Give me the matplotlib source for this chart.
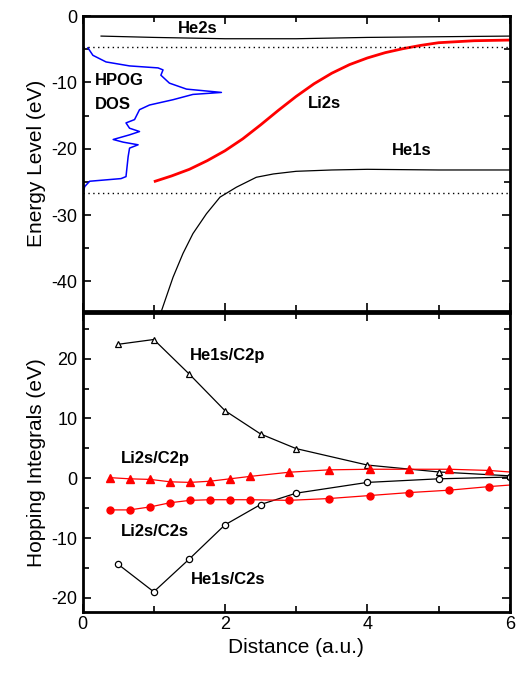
import numpy as np
import matplotlib
matplotlib.use("Agg")
import matplotlib.pyplot as plt
from matplotlib.ticker import MultipleLocator

plt.rcParams["font.family"] = ["Liberation Sans", "DejaVu Sans"]
plt.rcParams["axes.unicode_minus"] = False

# -------------------------------------------------------------------
# DATA
# -------------------------------------------------------------------
# top panel: energy levels vs distance
he2s_x = [0.26, 1.0, 2.0, 3.0, 4.0, 5.0, 6.0]
he2s_y = [-3.0, -3.2, -3.4, -3.4, -3.2, -3.1, -3.0]

li2s_x = [1.02, 1.25, 1.5, 1.75, 2.0, 2.25, 2.5, 2.75, 3.0, 3.25, 3.5,
          3.75, 4.0, 4.25, 4.5, 4.75, 5.0, 5.5, 6.0]
li2s_y = [-24.9, -24.1, -23.1, -21.8, -20.3, -18.5, -16.4, -14.2, -12.1,
          -10.2, -8.6, -7.3, -6.3, -5.5, -4.9, -4.4, -4.0, -3.7, -3.6]

he1s_x = [1.08, 1.11, 1.27, 1.41, 1.55, 1.74, 1.93, 2.16, 2.44, 2.68, 3.0,
          3.5, 4.0, 5.0, 6.0]
he1s_y = [-45.5, -44.4, -39.4, -35.8, -32.8, -29.8, -27.3, -25.8, -24.3,
          -23.8, -23.4, -23.2, -23.1, -23.2, -23.2]

# HPOG density of states (plotted sideways)
dos_val = [0.075, 0.145, 0.33, 0.66, 1.06, 1.13, 1.10, 1.22, 1.46, 1.95,
           1.55, 1.27, 0.94, 0.80, 0.73, 0.61, 0.66, 0.80, 0.66, 0.43,
           0.57, 0.78, 0.66, 0.64, 0.61, 0.54, 0.10, 0.03, 0.01]
dos_e = [-4.77, -5.9, -6.9, -7.5, -7.8, -8.1, -8.9, -10.1, -11.0, -11.5,
         -11.8, -12.6, -13.4, -14.1, -15.6, -16.1, -16.9, -17.4, -17.9, -18.6,
         -19.0, -19.4, -19.9, -21.2, -24.2, -24.5, -24.9, -25.7, -26.6]

# dotted reference levels
ref_levels = [-4.7, -26.7]

# bottom panel: hopping integrals
he_d = [0.5, 1.0, 1.5, 2.0, 2.5, 3.0, 4.0, 5.0, 6.0]
he1s_c2p = [22.4, 23.2, 17.4, 11.3, 7.4, 4.95, 2.2, 1.05, 0.4]
he1s_c2s = [-14.4, -19.0, -13.5, -7.8, -4.4, -2.5, -0.7, -0.1, 0.2]

li_d = [0.38, 0.66, 0.95, 1.23, 1.51, 1.79, 2.07, 2.35, 2.9, 3.46, 4.03,
        4.59, 5.15, 5.71, 6.27]
li2s_c2p = [0.1, -0.1, -0.2, -0.6, -0.7, -0.5, -0.1, 0.3, 1.0, 1.4, 1.5,
            1.5, 1.5, 1.3, 0.8]
li2s_c2s = [-5.3, -5.3, -4.8, -4.1, -3.7, -3.6, -3.6, -3.6, -3.7, -3.4,
            -2.9, -2.4, -2.0, -1.4, -0.9]

# -------------------------------------------------------------------
# PLOT
# -------------------------------------------------------------------
fig = plt.figure(figsize=(5.16, 6.75), dpi=100)
ax1 = fig.add_axes([0.160, 0.540, 0.828, 0.436])
ax2 = fig.add_axes([0.160, 0.094, 0.828, 0.442])

lbl = dict(fontsize=12, fontweight="bold", ha="center", va="center")

# top panel
ax1.plot(he2s_x, he2s_y, color="black", lw=0.9)
ax1.plot(li2s_x, li2s_y, color="red", lw=2.0)
ax1.plot(he1s_x, he1s_y, color="black", lw=0.9)
ax1.plot(dos_val, dos_e, color="blue", lw=1.1)
for lev in ref_levels:
    ax1.axhline(lev, color="black", lw=1.0, ls=(0, (1, 2.5)))

ax1.text(1.62, -1.8, "He2s", **lbl)
ax1.text(0.17, -9.7, "HPOG", fontsize=12, fontweight="bold", ha="left", va="center")
ax1.text(0.17, -13.3, "DOS", fontsize=12, fontweight="bold", ha="left", va="center")
ax1.text(3.4, -13.1, "Li2s", **lbl)
ax1.text(4.62, -20.3, "He1s", **lbl)

ax1.set_xlim(0, 6)
ax1.set_ylim(-44.4, 0)
ax1.set_ylabel("Energy Level (eV)", fontsize=15, labelpad=4)
ax1.yaxis.set_major_locator(MultipleLocator(10))
ax1.yaxis.set_minor_locator(MultipleLocator(5))
ax1.tick_params(labelbottom=False)

# bottom panel
ax2.plot(he_d, he1s_c2p, color="black", lw=0.9, marker="^", ms=5,
         mfc="white", mec="black", mew=0.9)
ax2.plot(he_d, he1s_c2s, color="black", lw=0.9, marker="o", ms=4.5,
         mfc="white", mec="black", mew=0.9)
ax2.plot(li_d, li2s_c2p, color="red", lw=0.9, marker="^", ms=5.5,
         mfc="red", mec="red")
ax2.plot(li_d, li2s_c2s, color="red", lw=0.9, marker="o", ms=5,
         mfc="red", mec="red")

ax2.text(2.04, 20.6, "He1s/C2p", **lbl)
ax2.text(1.02, 3.3, "Li2s/C2p", **lbl)
ax2.text(1.02, -8.9, "Li2s/C2s", **lbl)
ax2.text(2.04, -17.0, "He1s/C2s", **lbl)

ax2.set_xlim(0, 6)
ax2.set_ylim(-22.3, 27.6)
ax2.set_ylabel("Hopping Integrals (eV)", fontsize=15, labelpad=4)
ax2.set_xlabel("Distance (a.u.)", fontsize=15, labelpad=3)
ax2.yaxis.set_major_locator(MultipleLocator(10))
ax2.yaxis.set_minor_locator(MultipleLocator(5))

for ax in (ax1, ax2):
    ax.xaxis.set_major_locator(MultipleLocator(2))
    ax.xaxis.set_minor_locator(MultipleLocator(1))
    ax.tick_params(which="both", direction="in", top=True, right=True,
                   labelsize=13, width=1.2)
    ax.tick_params(which="major", length=6)
    ax.tick_params(which="minor", length=4)
    for sp in ax.spines.values():
        sp.set_linewidth(2.0)

fig.savefig("out.png", dpi=100)
